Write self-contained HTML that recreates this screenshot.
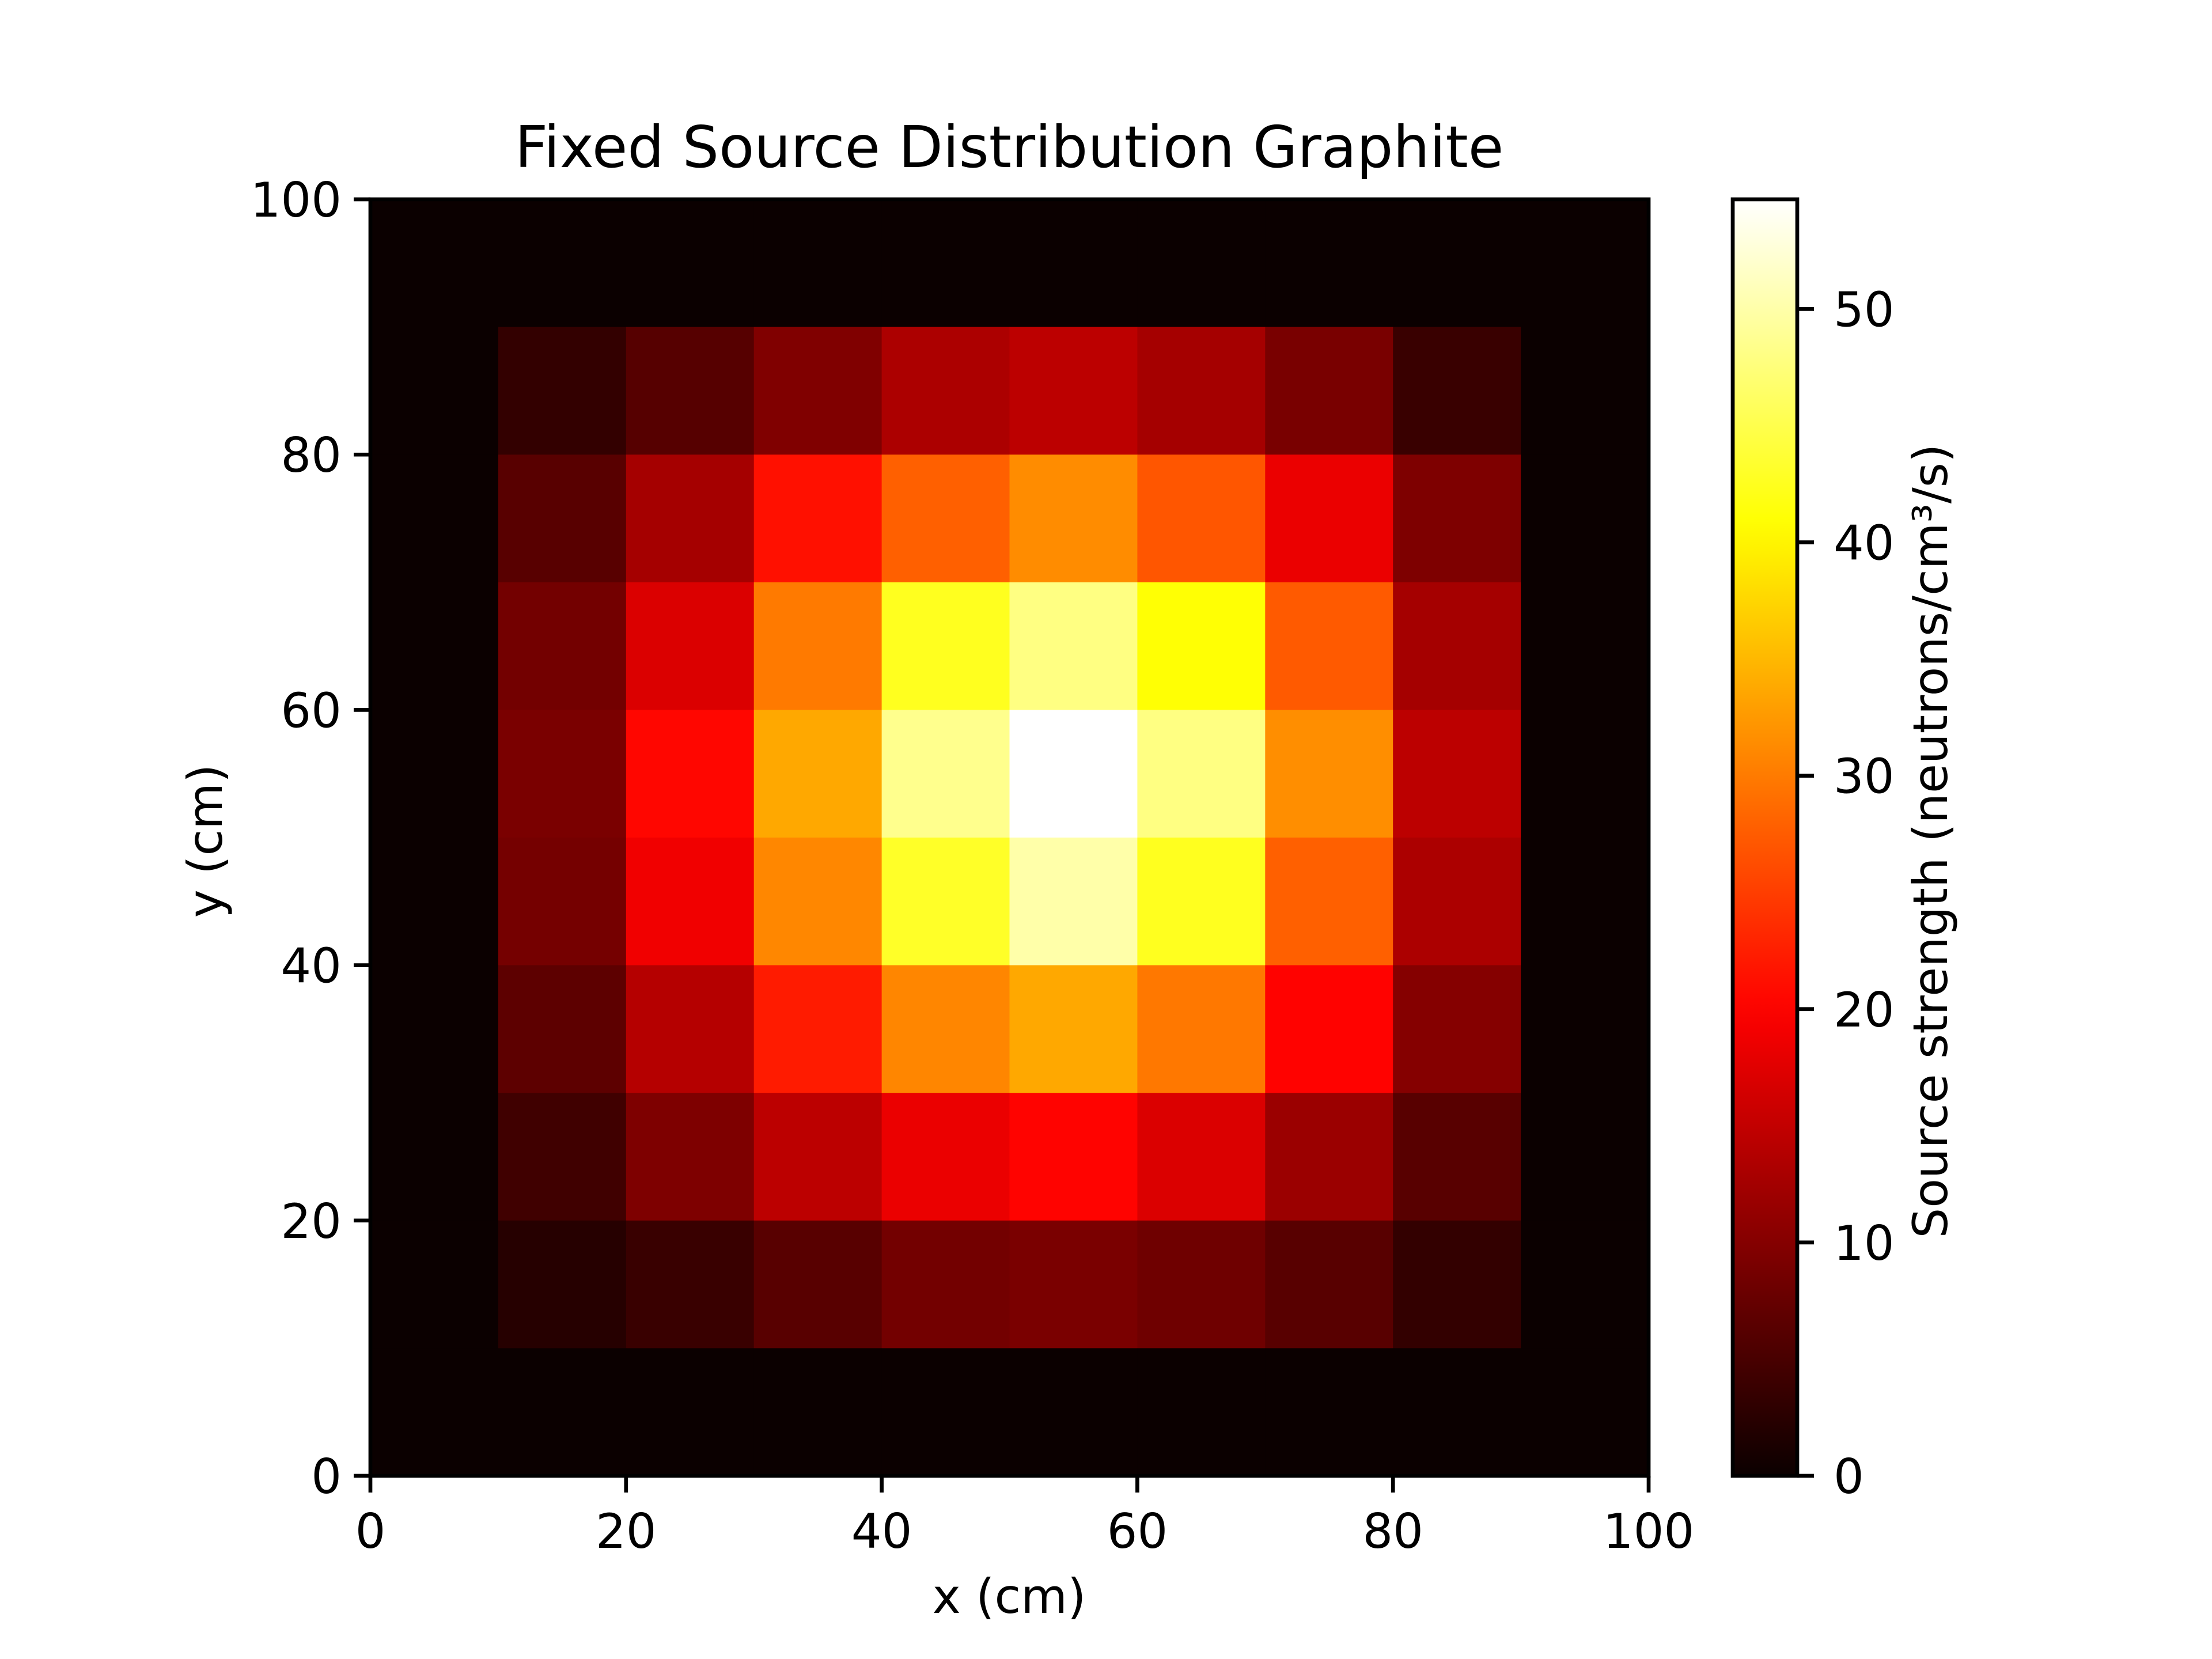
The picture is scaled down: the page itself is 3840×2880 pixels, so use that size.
<!DOCTYPE html>
<html><head><meta charset="utf-8"><style>
html,body{margin:0;padding:0;background:#fff;}
svg{display:block;font-family:"DejaVu Sans","Liberation Sans",sans-serif;}
</style></head><body>
<svg id="chart" width="3840" height="2880" viewBox="0 0 3840 2880">
<text x="1752" y="290" font-size="100" text-anchor="middle">Fixed Source Distribution Graphite</text>
<g id="cells"></g>
<g id="axes"></g>
<defs><linearGradient id="cgrad" x1="0" y1="1" x2="0" y2="0"></linearGradient></defs>
<g id="cbar"></g>
<text x="1752" y="2800" font-size="83" text-anchor="middle">x (cm)</text>
<text transform="translate(385,1460) rotate(-90)" font-size="83" text-anchor="middle">y (cm)</text>
<text transform="translate(3380,1460) rotate(-90)" font-size="83" text-anchor="middle">Source strength (neutrons/cm³/s)</text>
</svg>
<script>
// rows from top (y 90-100) to bottom (y 0-10), columns x 0-10 .. 90-100
const row9 = [0,0,0,0,0,0,0,0,0,0];
const row8 = [0,3.3,6.2,9.6,13.2,14.5,12.6,9.0,3.8,0];
const row7 = [0,6.3,12.6,21.3,27.8,31.4,27.0,18.3,9.4,0];
const row6 = [0,8.5,17.0,29.9,42.5,47.9,41.0,27.3,12.6,0];
const row5 = [0,9.1,20.5,33.7,48.5,54.7,47.9,31.6,14.5,0];
const row4 = [0,8.7,18.8,31.0,43.0,50.0,42.5,27.8,13.2,0];
const row3 = [0,6.7,13.9,22.2,30.9,33.7,29.8,20.1,10.0,0];
const row2 = [0,4.4,9.4,14.5,18.3,20.2,17.0,11.8,6.3,0];
const row1 = [0,2.2,3.8,6.3,8.5,9.1,8.2,6.3,3.3,0];
const row0 = [0,0,0,0,0,0,0,0,0,0];
const gridRows = [row9,row8,row7,row6,row5,row4,row3,row2,row1,row0];
const xTicks = [0,20,40,60,80,100];
const yTicks = [0,20,40,60,80,100];
const cTicks = [0,10,20,30,40,50];
const vmin = 0, vmax = 54.7;

const L=643,R=2862,T=346,B=2562;
const CL=3008,CR=3120;
const sx=v=>L+(v/100)*(R-L);
const sy=v=>B-(v/100)*(B-T);
const sc=v=>B-((v-vmin)/(vmax-vmin))*(B-T);
const NS='http://www.w3.org/2000/svg';
function lerp(pts,x){if(x<=pts[0][0])return pts[0][1];for(let i=1;i<pts.length;i++){if(x<=pts[i][0]){const a=pts[i-1],b=pts[i];return a[1]+(b[1]-a[1])*(x-a[0])/(b[0]-a[0]);}}return pts[pts.length-1][1];}
function hot(t){t=Math.max(0,Math.min(1,t));
const r=lerp([[0,0.0416],[0.365079,1],[1,1]],t),g=lerp([[0,0],[0.365079,0],[0.746032,1],[1,1]],t),b=lerp([[0,0],[0.746032,0],[1,1]],t);
return `rgb(${Math.round(r*255)},${Math.round(g*255)},${Math.round(b*255)})`;}
function el(tag,attrs,parent){const e=document.createElementNS(NS,tag);for(const k in attrs)e.setAttribute(k,attrs[k]);parent.appendChild(e);return e;}

const cells=document.getElementById('cells');
const n=gridRows.length;
gridRows.forEach((row,ri)=>{row.forEach((v,ci)=>{
 const y0=(n-1-ri)*10, x0=ci*10;
 const r=el('rect',{x:sx(x0),y:sy(y0+10),width:sx(x0+10)-sx(x0)+0.5,height:sy(y0)-sy(y0+10)+0.5,fill:hot((v-vmin)/(vmax-vmin))},cells);
 
 
});});

const axes=document.getElementById('axes');
const fr=el('rect',{x:L,y:T,width:R-L,height:B-T,fill:'none',stroke:'#000','stroke-width':6.7},axes);


xTicks.forEach(v=>{
 const t=el('line',{x1:sx(v),x2:sx(v),y1:B,y2:B+29,stroke:'#000','stroke-width':6.7},axes);
 
 
 const tx=el('text',{x:sx(v),y:B+125,'font-size':83,'text-anchor':'middle'},axes);
 tx.textContent=v;
 
 
});
yTicks.forEach(v=>{
 const t=el('line',{x1:L-29,x2:L,y1:sy(v),y2:sy(v),stroke:'#000','stroke-width':6.7},axes);
 
 
 const tx=el('text',{x:L-50,y:sy(v)+30,'font-size':83,'text-anchor':'end'},axes);
 tx.textContent=v;
 
 
});

const grad=document.getElementById('cgrad');
for(let i=0;i<=40;i++){const t=i/40;el('stop',{offset:t,'stop-color':hot(t)},grad);}
const cbar=document.getElementById('cbar');
const cr=el('rect',{x:CL,y:T,width:CR-CL,height:B-T,fill:'url(#cgrad)',stroke:'#000','stroke-width':6.7},cbar);


cTicks.forEach(v=>{
 const t=el('line',{x1:CR,x2:CR+29,y1:sc(v),y2:sc(v),stroke:'#000','stroke-width':6.7},cbar);
 
 
 const tx=el('text',{x:CR+63,y:sc(v)+30,'font-size':83},cbar);
 tx.textContent=v;
 
 
});
</script>
</body></html>
